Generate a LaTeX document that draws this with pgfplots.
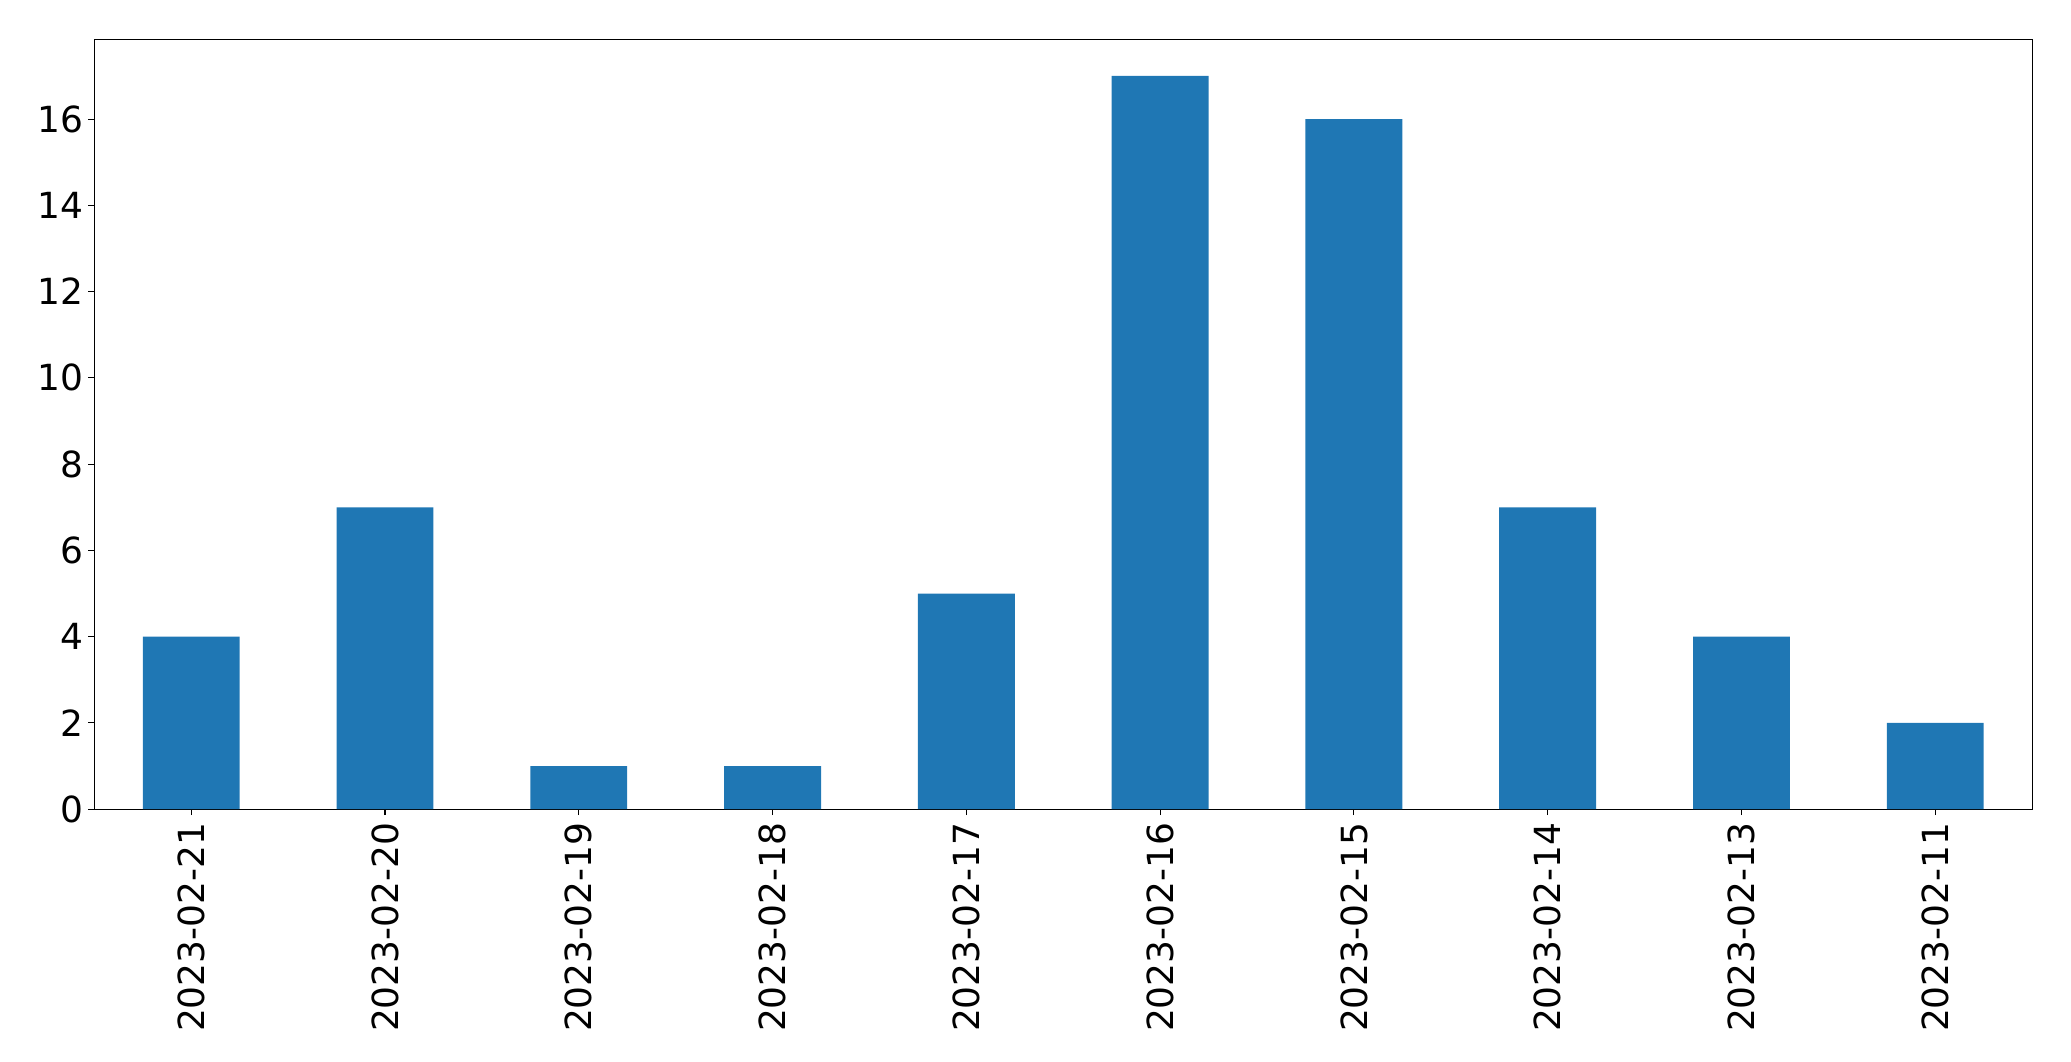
\documentclass[border=0pt]{standalone}
\usepackage{pgfplots}
\pgfplotsset{compat=1.18}
\usepackage{fontspec}
\setmainfont{DejaVu Sans}
\definecolor{mplblue}{HTML}{1F77B4}
\begin{document}
\begin{tikzpicture}
\path[use as bounding box] (-67.9bp,-181.4bp) rectangle (1422.9bp,582.5bp);
\begin{axis}[
  at={(0,0)}, anchor=south west,
  scale only axis,
  width=1395bp, height=554.2bp,
  xmin=-0.5, xmax=9.5,
  ymin=0, ymax=17.85,
  xtick={0,...,9},
  xticklabels={2023-02-21,2023-02-20,2023-02-19,2023-02-18,2023-02-17,2023-02-16,2023-02-15,2023-02-14,2023-02-13,2023-02-11},
  ytick={0,2,4,6,8,10,12,14,16},
  tick align=outside,
  tick pos=left,
  major tick length=4.3bp,
  every tick/.style={black, line width=0.8bp},
  axis line style={black, line width=0.8bp},
  /pgf/number format/assume math mode=true,
  tick label style={font=\fontsize{26}{31}\selectfont},
  xticklabel style={rotate=90, anchor=east, xshift=-2bp},
  ybar, bar width=0.5,
]
\addplot[fill=mplblue, draw=none] coordinates {
(0,4) (1,7) (2,1) (3,1) (4,5) (5,17) (6,16) (7,7) (8,4) (9,2)
};
\end{axis}
\end{tikzpicture}
\end{document}
